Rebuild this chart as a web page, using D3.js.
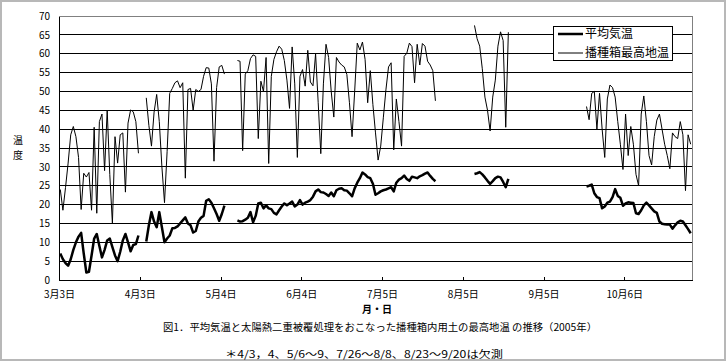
<!DOCTYPE html>
<html><head><meta charset="utf-8">
<script src="https://cdn.jsdelivr.net/npm/d3@7"></script>
<style>body{margin:0;background:#fff}svg{display:block}</style>
</head><body><svg id="c" width="726" height="361"></svg>
<script>
// ---- data ----
const startDate = "2005-03-03";
const endDate = "2005-10-31";
const tickIndex = [0, 31, 62, 93, 124, 155, 186, 217];
const tickLabels = ["3月3日", "4月3日", "5月4日", "6月4日", "7月5日", "8月5日", "9月5日", "10月6日"];
const yTicks = [0, 5, 10, 15, 20, 25, 30, 35, 40, 45, 50, 55, 60, 65, 70];
const seriesNames = ["平均気温", "播種箱最高地温"];
const _ = null;
const meanTemp = [
  7.0, 5.5, 4.5, 3.8, 5.5, 8.0, 10.0, 11.5, 12.5, 7.0,
  2.0, 2.2, 6.5, 11.0, 12.2, 9.0, 6.0, 8.0, 10.5, 11.0,
  8.7, 6.5, 5.0, 7.5, 10.5, 12.2, 10.0, 7.6, 9.3, 9.5,
  11.8, _, _, 10.2, 14.5, 18.0, 15.5, 14.0, 18.0, 14.0,
  10.0, 11.0, 11.8, 13.7, 13.8, 14.2, 15.0, 15.8, 16.6, 15.0,
  14.5, 12.6, 13.0, 15.5, 16.5, 17.0, 21.0, 21.4, 20.5, 19.0,
  17.5, 15.7, 17.5, 19.7, _, _, _, _, 15.8, 15.5,
  15.6, 16.0, 16.5, 18.0, 15.3, 17.0, 20.3, 20.5, 19.0, 19.8,
  19.0, 18.8, 17.8, 17.4, 18.5, 19.5, 20.3, 19.8, 20.3, 20.8,
  19.5, 20.0, 21.2, 20.0, 20.5, 20.8, 21.2, 22.1, 23.5, 24.0,
  23.3, 23.2, 22.8, 22.3, 23.2, 22.2, 23.8, 24.2, 24.3, 23.8,
  23.7, 23.0, 22.2, 24.3, 25.8, 27.0, 28.5, 28.0, 27.3, 27.0,
  25.5, 22.6, 23.0, 23.5, 23.8, 24.0, 24.3, 24.6, 23.5, 25.8,
  26.6, 27.0, 27.7, 26.8, 26.3, 27.4, 27.2, 27.0, 27.5, 27.8,
  28.2, 28.5, 27.6, 26.8, 26.2, _, _, _, _, _,
  _, _, _, _, _, _, _, _, _, 28.1,
  28.3, 28.6, 28.0, 27.2, 26.3, 25.5, 26.2, 27.0, 27.4, 27.2,
  26.0, 24.6, 26.8, _, _, _, _, _, _, _,
  _, _, _, _, _, _, _, _, _, _,
  _, _, _, _, _, _, _, _, _, _,
  _, _, 24.8, 25.0, 25.3, 23.0, 22.0, 21.7, 19.0, 19.5,
  20.5, 20.8, 22.0, 24.1, 22.3, 21.8, 19.7, 20.3, 20.6, 20.5,
  20.4, 17.7, 17.5, 18.5, 19.8, 20.5, 19.8, 19.0, 18.2, 17.8,
  15.5, 14.9, 14.8, 14.7, 14.7, 13.6, 14.5, 15.3, 15.7, 15.5,
  14.5, 13.5, 12.4
];
const soilTemp = [
  24.0, 18.5, 24.5, 31.0, 38.5, 40.7, 38.0, 32.5, 18.7, 28.3,
  27.3, 28.5, 18.5, 40.5, 17.7, 42.0, 44.0, 29.0, 45.0, 28.0,
  15.0, 38.0, 31.0, 38.5, 39.0, 23.3, 41.6, 45.1, 44.6, 42.0,
  33.6, _, _, 48.3, 41.0, 35.5, 44.5, 49.2, 42.0, 30.0,
  20.5, 34.0, 49.5, 50.8, 52.3, 52.8, 51.0, 52.3, 27.0, 50.5,
  50.8, 45.0, 50.5, 50.0, 50.5, 54.0, 56.3, 56.2, 52.0, 31.5,
  51.0, 56.5, 56.9, 54.6, _, _, _, _, 58.2, 58.0,
  34.3, 54.6, 55.5, 58.7, 59.7, 59.3, 37.5, 52.7, 50.0, 59.0,
  30.9, 54.0, 58.5, 60.5, 62.0, 61.2, 58.2, 53.0, 45.5, 61.8,
  52.0, 32.5, 54.0, 55.8, 51.4, 60.9, 52.5, 51.5, 60.0, 47.0,
  33.5, 52.0, 62.5, 59.0, 50.0, 43.2, 59.0, 57.8, 57.0, 56.5,
  54.5, 47.0, 38.0, 50.0, 62.8, 61.0, 63.1, 58.5, 47.0, 55.5,
  46.5, 39.0, 31.8, 35.5, 43.0, 50.4, 56.5, 57.6, 34.5, 48.0,
  42.0, 35.5, 59.3, 60.1, 62.8, 61.9, 52.3, 62.5, 57.0, 62.7,
  62.0, 58.0, 57.0, 55.5, 47.5, _, _, _, _, _,
  _, _, _, _, _, _, _, _, _, 67.5,
  64.0, 62.0, 56.0, 48.5, 45.0, 39.5, 48.5, 53.0, 62.0, 65.8,
  63.5, 40.5, 65.7, _, _, _, _, _, _, _,
  _, _, _, _, _, _, _, _, _, _,
  _, _, _, _, _, _, _, _, _, _,
  _, _, 46.0, 42.5, 49.5, 50.0, 40.0, 49.5, 40.0, 32.5,
  48.0, 51.7, 51.0, 48.5, 42.0, 36.0, 29.3, 44.0, 33.0, 40.7,
  36.0, 28.0, 25.0, 44.0, 48.8, 42.0, 33.0, 30.5, 38.0, 42.4,
  44.0, 40.0, 36.0, 33.0, 29.5, 39.0, 38.0, 37.5, 42.0, 38.5,
  23.7, 38.5, 36.0
];
const titleText = "図1．平均気温と太陽熱二重被覆処理をおこなった播種箱内用土の最高地温 の推移（2005年）";
const noteText = "＊4/3，4、5/6～9、7/26～8/8、8/23～9/20は欠測";

// ---- chart ----
const parse = d3.timeParse("%Y-%m-%d");
const categories = d3.timeDay.range(parse(startDate), d3.timeDay.offset(parse(endDate), 1));
const FONT = "'Noto Sans CJK JP', 'Noto Sans', sans-serif";
const svg = d3.select("#c");
const L = 59, R = 692, T = 16, B = 280;

const x = d3.scaleLinear().domain([0, categories.length]).range([L, R]);
const y = d3.scaleLinear().domain([0, 70]).range([B, T]);

svg.append("rect").attr("x", 1).attr("y", 1).attr("width", 724).attr("height", 359)
  .attr("fill", "#fff").attr("stroke", "#b8b8b8").attr("stroke-width", 2);

// gridlines
svg.append("g").selectAll("line").data(yTicks.filter(v => v > 0 && v < 70)).join("line")
  .attr("x1", L).attr("x2", R).attr("y1", d => y(d)).attr("y2", d => y(d))
  .attr("stroke", "#000").attr("stroke-width", 1).attr("shape-rendering", "crispEdges");

// plot border (grey top/right)
svg.append("path").attr("d", `M${L},${T}H${R}V${B}`).attr("fill", "none")
  .attr("stroke", "#808080").attr("stroke-width", 1).attr("shape-rendering", "crispEdges");

// axes
const yAxis = svg.append("g").attr("transform", `translate(${L},0)`)
  .call(d3.axisLeft(y).tickValues(yTicks).tickSize(0).tickPadding(9));
yAxis.select(".domain").attr("stroke", "#000").attr("shape-rendering", "crispEdges");
yAxis.selectAll("text").attr("font-family", FONT).attr("font-size", 10).attr("fill", "#000");

const xAxis = svg.append("g").attr("transform", `translate(0,${B})`)
  .call(d3.axisBottom(x).tickValues(tickIndex).tickFormat((d, i) => tickLabels[i])
    .tickSizeInner(-3).tickSizeOuter(0).tickPadding(11));
xAxis.select(".domain").attr("stroke", "#000").attr("shape-rendering", "crispEdges");
xAxis.selectAll(".tick line").attr("stroke", "#000").attr("shape-rendering", "crispEdges");
xAxis.selectAll("text").attr("font-family", FONT).attr("font-size", 10).attr("fill", "#000");

// lines
const lineGen = d3.line().defined(d => d != null)
  .x((d, i) => x(i + 0.5)).y(d => y(d));
svg.append("path").datum(soilTemp).attr("d", lineGen)
  .attr("fill", "none").attr("stroke", "#000").attr("stroke-width", 1);
svg.append("path").datum(meanTemp).attr("d", lineGen)
  .attr("fill", "none").attr("stroke", "#000").attr("stroke-width", 2.5)
  .attr("stroke-linejoin", "round");

// legend
const lg = svg.append("g");
lg.append("rect").attr("x", 553.5).attr("y", 26.5).attr("width", 119).attr("height", 34)
  .attr("fill", "#fff").attr("stroke", "#000").attr("stroke-width", 1);
[[34, 2.5], [53, 1]].forEach(([ly, w], i) => {
  lg.append("line").attr("x1", 558).attr("x2", 583).attr("y1", ly).attr("y2", ly)
    .attr("stroke", "#000").attr("stroke-width", w);
  lg.append("text").attr("x", 585).attr("y", ly).attr("dy", "0.36em")
    .attr("font-family", FONT).attr("font-size", 12).text(seriesNames[i]);
});

// axis titles
const yt = svg.append("text").attr("font-family", FONT).attr("font-size", 10).attr("text-anchor", "middle");
yt.append("tspan").attr("x", 18).attr("y", 144).text("温");
yt.append("tspan").attr("x", 18).attr("y", 159).text("度");
svg.append("text").attr("x", 377).attr("y", 313).attr("text-anchor", "middle")
  .attr("font-family", FONT).attr("font-size", 10).attr("font-weight", "bold").text("月・日");

svg.append("text").attr("x", 380).attr("y", 331).attr("text-anchor", "middle")
  .attr("font-family", FONT).attr("font-size", 10)
  .attr("textLength", 434).attr("lengthAdjust", "spacingAndGlyphs").text(titleText);
svg.append("text").attr("x", 364).attr("y", 358).attr("text-anchor", "middle")
  .attr("font-family", FONT).attr("font-size", 10)
  .attr("textLength", 278).attr("lengthAdjust", "spacingAndGlyphs").text(noteText);
</script>
</body></html>
